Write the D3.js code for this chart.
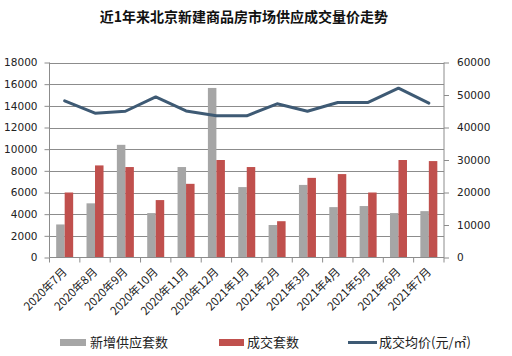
<!DOCTYPE html>
<html><head><meta charset="utf-8">
<script src="https://cdn.jsdelivr.net/npm/d3@7/dist/d3.min.js"></script>
<style>body{margin:0;background:#fff}svg{display:block}</style>
</head><body>
<svg id="c" width="512" height="356"></svg>
<script>
const categories = ["2020年7月","2020年8月","2020年9月","2020年10月","2020年11月","2020年12月","2021年1月","2021年2月","2021年3月","2021年4月","2021年5月","2021年6月","2021年7月"];
const supply = [3050,5000,10400,4100,8350,15650,6500,3000,6700,4650,4750,4100,4280];
const deals = [6000,8500,8350,5300,6800,9000,8350,3350,7350,7700,6000,9000,8900];
const price = [48200,44400,45000,49400,45100,43600,43600,47300,45000,47700,47700,52100,47500];
const leftTicks = [0,2000,4000,6000,8000,10000,12000,14000,16000,18000];
const rightTicks = [0,10000,20000,30000,40000,50000,60000];
const seriesNames = ["新增供应套数","成交套数","成交均价(元/㎡)"];
const title = "近1年来北京新建商品房市场供应成交量价走势";

const svg = d3.select("#c");
const L = 49.5, R = 444, T = 62.5, B = 257.5;
const x = d3.scaleBand().domain(categories).range([L, R]);
const yL = d3.scaleLinear().domain([0,18000]).range([B, T]);
const yR = d3.scaleLinear().domain([0,60000]).range([B, T]);
const numFont = "DejaVu Sans, Verdana, sans-serif";
const cjk = "'Noto Sans CJK SC', sans-serif";

svg.append("text").attr("x",244).attr("y",22).attr("text-anchor","middle")
  .attr("font-family",cjk).attr("font-weight","bold").attr("font-size",14).attr("fill","#111").text(title);

// gridlines
svg.append("g").selectAll("line").data(leftTicks.filter(d=>d>0)).join("line")
  .attr("x1",L).attr("x2",R).attr("y1",d=>Math.round(yL(d))+0.5).attr("y2",d=>Math.round(yL(d))+0.5)
  .attr("stroke","#8c8c8c").attr("stroke-width",1);

// bars
const bw = 8.5;
svg.append("g").selectAll("rect").data(supply).join("rect")
  .attr("x",(d,i)=>x(categories[i])+x.bandwidth()/2-bw).attr("width",bw)
  .attr("y",d=>yL(d)).attr("height",d=>B-yL(d)).attr("fill","#a6a6a6");
svg.append("g").selectAll("rect").data(deals).join("rect")
  .attr("x",(d,i)=>x(categories[i])+x.bandwidth()/2).attr("width",bw)
  .attr("y",d=>yL(d)).attr("height",d=>B-yL(d)).attr("fill","#c0504d");

// line
const line = d3.line().x((d,i)=>x(categories[i])+x.bandwidth()/2).y(d=>yR(d));
svg.append("path").datum(price).attr("d",line).attr("fill","none")
  .attr("stroke","#3e5a74").attr("stroke-width",3).attr("stroke-linejoin","round").attr("stroke-linecap","round");

// left axis
const gl = svg.append("g").attr("transform",`translate(${L},0)`)
  .call(d3.axisLeft(yL).tickValues(leftTicks).tickSize(5).tickPadding(7).tickFormat(d3.format("d")));
gl.selectAll("text").attr("font-family",numFont).attr("font-size",10.5).attr("fill","#222");
gl.selectAll("line,path").attr("stroke","#8c8c8c");
gl.select(".domain").attr("d",`M0,${T}V${B}`);

// right axis
const gr = svg.append("g").attr("transform",`translate(${R},0)`)
  .call(d3.axisRight(yR).tickValues(rightTicks).tickSize(5).tickPadding(8).tickFormat(d3.format("d")));
gr.selectAll("text").attr("font-family",numFont).attr("font-size",10.5).attr("fill","#222");
gr.selectAll("line,path").attr("stroke","#8c8c8c");
gr.select(".domain").attr("d",`M0,${T}V${B}`);

// bottom axis
const gb = svg.append("g").attr("transform",`translate(0,${B})`)
  .call(d3.axisBottom(x).tickSize(0).tickPadding(0));
gb.select(".domain").attr("stroke","#8c8c8c").attr("d",`M${L},0H${R}`);
gb.selectAll(".tick text").attr("font-family",cjk).attr("font-size",11.5).attr("fill","#222")
  .attr("text-anchor","end").attr("dy",0).attr("transform","translate(3,15) rotate(-45)");
// category boundary ticks
const bounds = categories.map(c=>x(c)).concat([R]);
svg.append("g").selectAll("line").data(bounds).join("line")
  .attr("x1",d=>d).attr("x2",d=>d).attr("y1",B).attr("y2",B+5).attr("stroke","#8c8c8c");

// legend
const lg = svg.append("g").attr("font-family",cjk).attr("font-size",13).attr("fill","#222");
lg.append("rect").attr("x",60).attr("y",339).attr("width",26).attr("height",7).attr("fill","#a6a6a6");
lg.append("text").attr("x",90).attr("y",347).text(seriesNames[0]);
lg.append("rect").attr("x",219).attr("y",339).attr("width",25).attr("height",7).attr("fill","#c0504d");
lg.append("text").attr("x",247).attr("y",347).text(seriesNames[1]);
lg.append("line").attr("x1",348).attr("x2",377).attr("y1",342.5).attr("y2",342.5).attr("stroke","#3e5a74").attr("stroke-width",3);
lg.append("text").attr("x",379).attr("y",347).text(seriesNames[2]);
</script>
</body></html>
